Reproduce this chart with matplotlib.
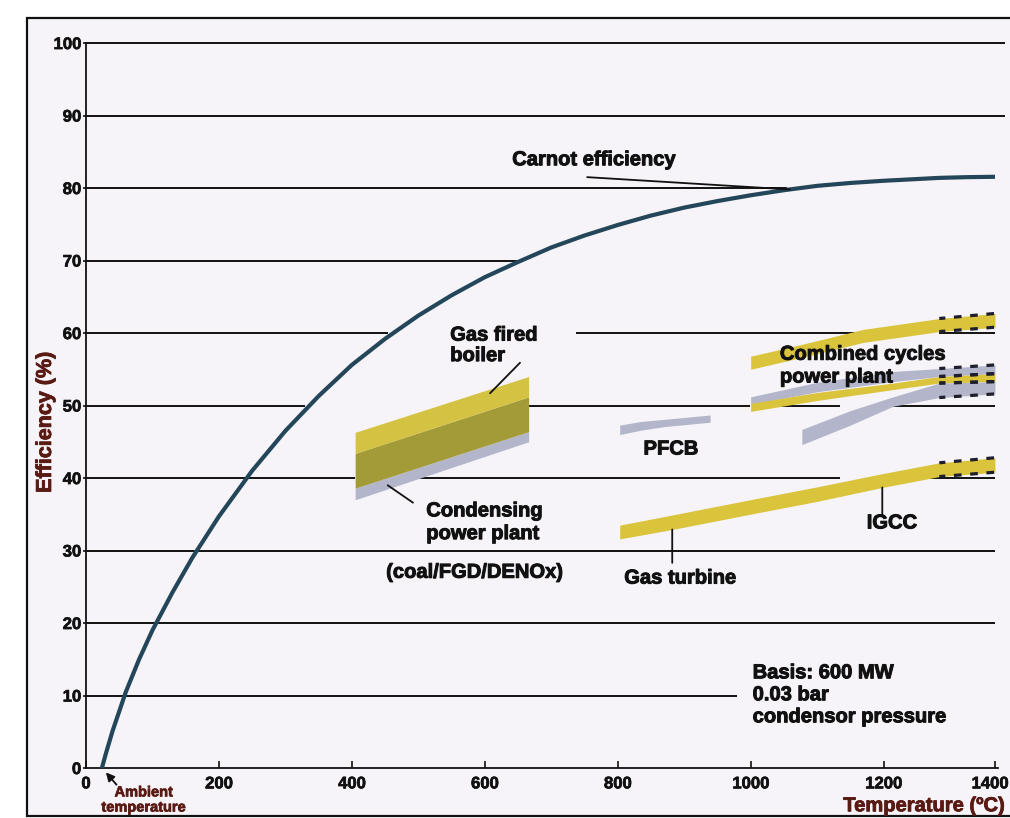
import matplotlib
matplotlib.use("Agg")
import matplotlib.pyplot as plt
import matplotlib.patheffects as pe
import matplotlib.transforms as mtransforms
import numpy as np
from matplotlib.patches import Rectangle

plt.rcParams["font.family"] = ["Liberation Sans", "DejaVu Sans"]
plt.rcParams["font.weight"] = "bold"

# Carnot efficiency vs. upper process temperature
carnot_temp = [24, 30, 40, 60, 80, 100, 130, 160, 200, 250, 300, 350, 400, 450, 500,
               550, 600, 650, 700, 750, 800, 850, 900, 950, 1000, 1050, 1100, 1150,
               1200, 1250, 1300, 1350, 1400]
carnot_eff = [0, 2.0, 5.1, 10.5, 15.0, 19.0, 24.2, 29.0, 34.7, 41.0, 46.5, 51.3, 55.6,
              59.2, 62.4, 65.2, 67.7, 69.8, 71.8, 73.45, 74.9, 76.2, 77.3, 78.2, 79.0,
              79.7, 80.3, 80.7, 81.0, 81.2, 81.4, 81.5, 81.55]

# condensing power plant block (three layers, straight edges)
boiler_temp = [405, 666]
boiler_grey_lo = [37.0, 45.0]
boiler_olive_lo = [38.6, 46.4]
boiler_yellow_lo = [43.4, 51.2]
boiler_top = [46.3, 54.0]

# PFCB
pfcb_temp = [803, 835, 871, 939]
pfcb_lo = [46.0, 46.6, 47.1, 47.7]
pfcb_hi = [47.3, 47.8, 48.1, 48.7]

# gas turbine / IGCC
gt_temp = [803, 882, 999, 1101, 1198, 1300, 1400]
gt_lo = [31.6, 32.9, 35.0, 36.8, 38.7, 40.2, 40.8]
gt_hi = [33.5, 34.9, 37.0, 38.8, 40.6, 42.1, 42.8]

# combined cycles
cc_a_temp = [1000, 1080, 1169, 1300, 1400]
cc_a_lo = [55.0, 56.7, 58.7, 60.2, 60.8]
cc_a_hi = [56.8, 58.5, 60.5, 62.0, 62.7]

cc_b_temp = [1000, 1100, 1217, 1300, 1400]
cc_b_lo = [50.1, 51.9, 53.3, 54.0, 54.4]
cc_b_hi = [51.2, 53.2, 54.7, 55.1, 55.6]

cc_c_temp = [1000, 1100, 1217, 1300, 1400]
cc_c_lo = [49.2, 50.7, 52.2, 53.1, 53.3]
cc_c_hi = [50.3, 51.8, 53.1, 54.0, 54.4]

cc_d_temp = [1077, 1150, 1217, 1300, 1400]
cc_d_lo = [44.6, 47.3, 49.9, 51.1, 51.6]
cc_d_hi = [46.7, 49.3, 51.2, 53.1, 53.3]

x_ticks = [0, 200, 400, 600, 800, 1000, 1200, 1400]
y_ticks = [0, 10, 20, 30, 40, 50, 60, 70, 80, 90, 100]

# horizontal rules (value, start, end) - broken where labels sit
grid_segments = [
    (100, 0, 1418), (90, 0, 1418), (80, 0, 1055), (70, 0, 655),
    (60, 0, 455), (60, 737, 1169), (60, 1299, 1400),
    (50, 0, 330), (50, 665, 999), (50, 1034, 1134), (50, 1213, 1400),
    (40, 0, 405), (40, 492, 1134), (40, 1262, 1400),
    (30, 0, 1400), (20, 0, 1400), (10, 0, 979),
]

YELLOW = "#dac43c"
BOIL_YELLOW = "#d4c342"
OLIVE = "#a39b37"
GREY = "#b3b6ca"
DASH = "#1e1e2c"
MAROON = "#5a1a14"
INK = "#111111"

# the printed axis squeezes the last 200 degC
K = 167.5 / 200.0


def fwd(x):
    x = np.asarray(x, dtype=float)
    return np.where(x <= 1200, x, 1200 + (x - 1200) * K)


def inv(y):
    y = np.asarray(y, dtype=float)
    return np.where(y <= 1200, y, 1200 + (y - 1200) / K)


fig = plt.figure(figsize=(10.1, 8.18), dpi=100)
fig.patch.set_facecolor("white")
fig.patches.append(Rectangle((0.0267, 0.0024), 1.0, 0.9756, transform=fig.transFigure,
                             facecolor="#f6f4f8", edgecolor=INK, linewidth=1.6, zorder=-10))

ax = fig.add_axes([0.0851, 0.0611, 0.9, 0.8863])
ax.set_facecolor("none")
ax.set_xscale("function", functions=(fwd, inv))
ax.set_xlim(0, 1400)
ax.set_ylim(0, 100)

for y, x0, x1 in grid_segments:
    ax.hlines(y, x0, x1, color=INK, linewidth=1.4, zorder=1, clip_on=False)

ax.plot(carnot_temp, carnot_eff, color="#24465a", linewidth=3.0,
        solid_joinstyle="round", zorder=3)

# condensing plant / gas boiler block
ax.fill_between(boiler_temp, boiler_grey_lo, boiler_olive_lo, color=GREY, lw=0, zorder=2)
ax.fill_between(boiler_temp, boiler_olive_lo, boiler_yellow_lo, color=OLIVE, lw=0, zorder=2)
ax.fill_between(boiler_temp, boiler_yellow_lo, boiler_top, color=BOIL_YELLOW, lw=0, zorder=2)

ax.fill_between(pfcb_temp, pfcb_lo, pfcb_hi, color=GREY, lw=0, zorder=2)
ax.fill_between(gt_temp, gt_lo, gt_hi, color=YELLOW, lw=0, zorder=2)
ax.fill_between(cc_a_temp, cc_a_lo, cc_a_hi, color=YELLOW, lw=0, zorder=2)
ax.fill_between(cc_b_temp, cc_b_lo, cc_b_hi, color=GREY, lw=0, zorder=2)
ax.fill_between(cc_c_temp, cc_c_lo, cc_c_hi, color=YELLOW, lw=0, zorder=2.1)
ax.fill_between(cc_d_temp, cc_d_lo, cc_d_hi, color=GREY, lw=0, zorder=2.2)

# dashed extension above 1300 degC
for t, lo, hi in [(gt_temp, gt_lo, gt_hi), (cc_a_temp, cc_a_lo, cc_a_hi),
                  (cc_b_temp, cc_b_lo, cc_b_hi), (cc_c_temp, cc_c_lo, cc_c_hi),
                  (cc_d_temp, cc_d_lo, cc_d_hi)]:
    for edge in (lo, hi):
        ax.plot(t[-2:], edge[-2:], color=DASH, linewidth=2.3,
                linestyle=(0.5, (2.4, 2.7)), zorder=3, solid_capstyle="butt")

heavy = [pe.withStroke(linewidth=0.7, foreground=INK)]
label_kw = dict(fontsize=14.5, fontweight="bold", color=INK, zorder=5, path_effects=heavy)
line_kw = dict(arrowstyle="-", color=INK, linewidth=1.3, shrinkA=0, shrinkB=0)

ax.text(764, 83.9, "Carnot efficiency", ha="center", va="center", **label_kw)
ax.annotate("", xy=(1059, 79.8), xytext=(754, 81.5), arrowprops=line_kw)

ax.text(548, 58.3, "Gas fired\nboiler", ha="left", va="center", linespacing=1.1, **label_kw)
ax.annotate("", xy=(608, 51.7), xytext=(653, 55.9), arrowprops=line_kw)

ax.text(512, 33.9, "Condensing\npower plant", ha="left", va="center", linespacing=1.25,
        **label_kw)
ax.annotate("", xy=(454, 39.0), xytext=(492, 36.6), arrowprops=line_kw)
ax.text(585, 27.0, "(coal/FGD/DENOx)", ha="center", va="center", **label_kw)

ax.text(880, 44.0, "PFCB", ha="center", va="center", **label_kw)

ax.text(1044, 55.5, "Combined cycles\npower plant", ha="left", va="center",
        linespacing=1.25, **label_kw)

ax.text(894, 26.2, "Gas turbine", ha="center", va="center", **label_kw)
ax.annotate("", xy=(882, 32.9), xytext=(882, 28.3), arrowprops=line_kw)

ax.text(1215, 33.8, "IGCC", ha="center", va="center", **label_kw)
ax.annotate("", xy=(1198, 38.7), xytext=(1198, 35.0), arrowprops=line_kw)

ax.text(1003, 10.1, "Basis: 600 MW\n0.03 bar\ncondensor pressure", ha="left",
        va="center", linespacing=1.2, **label_kw)

ax.annotate("", xy=(30, -0.6), xytext=(46, -2.3), annotation_clip=False,
            arrowprops=dict(arrowstyle="-|>,head_length=0.5,head_width=0.25",
                            color=INK, linewidth=1.3, shrinkA=0, shrinkB=0))
ax.text(87, -2.4, "Ambient\ntemperature", ha="center", va="top", fontsize=10.5,
        fontweight="bold", color=MAROON, linespacing=1.1, clip_on=False,
        path_effects=[pe.withStroke(linewidth=0.5, foreground=MAROON)])

ax.set_xticks(x_ticks)
ax.set_xticklabels([str(v) for v in x_ticks])
ax.set_yticks(y_ticks)
ax.set_yticklabels([str(v) for v in y_ticks])
ax.tick_params(axis="x", direction="in", length=5, width=1.2, labelsize=12, pad=6,
               colors=INK)
ax.tick_params(axis="y", direction="out", length=2.5, width=1.2, labelsize=12, pad=1,
               colors=INK)
for lab in ax.get_xticklabels() + ax.get_yticklabels():
    lab.set_fontweight("bold")
    lab.set_path_effects([pe.withStroke(linewidth=0.5, foreground=INK)])

# last label sits against the page edge
last = ax.get_xticklabels()[-1]
last.set_transform(last.get_transform() +
                   mtransforms.ScaledTranslation(-5 / 100, 0, fig.dpi_scale_trans))

for side in ("top", "right"):
    ax.spines[side].set_visible(False)
for side in ("left", "bottom"):
    ax.spines[side].set_linewidth(1.3)
    ax.spines[side].set_color(INK)
ax.spines["bottom"].set_bounds(0, 1405)

ax.set_ylabel("Efficiency (%)", fontsize=15.5, fontweight="bold", color=MAROON,
              path_effects=[pe.withStroke(linewidth=0.6, foreground=MAROON)])
ax.yaxis.set_label_coords(-0.033, 0.477)
ax.set_xlabel("Temperature (ºC)", fontsize=14.5, fontweight="bold", color=MAROON,
              ha="right", va="center",
              path_effects=[pe.withStroke(linewidth=0.6, foreground=MAROON)])
ax.xaxis.set_label_coords(1.011, -0.052)

fig.savefig("out.png", dpi=100, facecolor=fig.get_facecolor())
